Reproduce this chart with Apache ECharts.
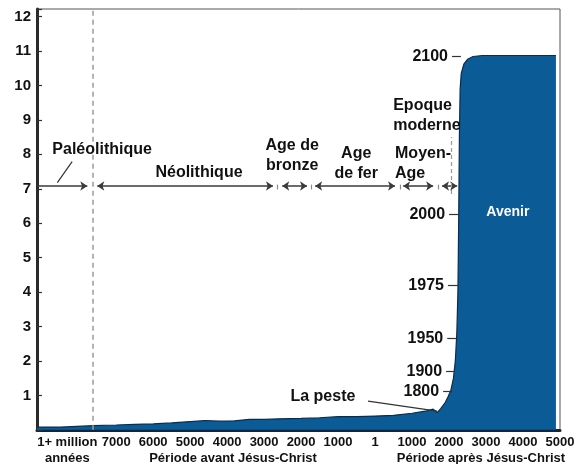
<!DOCTYPE html>
<html>
<head>
<meta charset="utf-8">
<script src="https://cdn.jsdelivr.net/npm/echarts@6/dist/echarts.min.js"></script>
<style>html,body{margin:0;padding:0;background:#fff}#c{width:579px;height:464px}</style>
</head>
<body>
<div id="c"></div>
<script>
// ---- Data (x in "era index" units: 0 = 7000 av. J.-C., 7 = an 1, 9 = 2000 apr. J.-C., 12 = 5000) ----
const xTickPos    = [-1.32, 0, 1, 2, 3, 4, 5, 6, 7, 8, 9, 10, 11, 12];
const xTickLabels = ['1+ million\nannées','7000','6000','5000','4000','3000','2000','1000','1','1000','2000','3000','4000','5000'];
const yTickLabels = ['1','2','3','4','5','6','7','8','9','10','11','12'];

// population (milliards)
const popX = [-2.14,-1.5,-0.62,0.0,0.5,1.0,1.5,2.0,2.4,2.8,3.2,3.6,4.0,4.4,5.0,5.5,6.0,6.5,7.0,7.5,8.0,8.4,8.57,8.68,8.78,8.9,8.97,9.05,9.12,9.17,9.21,9.24,9.26,9.28,9.30,9.33,9.40,9.50,9.65,9.9,11.89];
const popY = [0.08,0.08,0.12,0.14,0.16,0.17,0.2,0.24,0.27,0.25,0.26,0.3,0.3,0.32,0.33,0.35,0.38,0.38,0.4,0.42,0.48,0.55,0.6,0.5,0.62,0.8,0.95,1.15,1.5,2.0,2.8,4.0,6.0,8.5,9.9,10.35,10.62,10.76,10.84,10.87,10.87];

// periods
const periodNames = ['Paléolithique','Néolithique','Age de\nbronze','Age\nde fer','Moyen-\nAge','Epoque\nmoderne'];
const periodLabelX = [-0.38, 2.24, 4.76, 6.49, 7.54, 7.49];
const periodLabelY = [8.14, 7.47, 7.97, 7.74, 7.74, 9.13];
const periodStart = [-2.14, -0.51, 4.49, 5.38, 7.76, 8.81];
const periodEnd   = [-0.78, 4.24, 5.16, 7.54, 8.57, 9.22];
const periodArrowY = 7.08;
const periodSeparators = [4.35, 5.27, 7.68, 8.70];
const neolithicStartX = -0.62;
const modernSepX = 9.05, modernSepY = [6.85, 8.5];

// year marks along the curve
const yearNames = ['2100','2000','1975','1950','1900','1800'];
const yearY     = [10.84, 6.26, 4.19, 2.66, 1.70, 1.12];
const yearDashStart = [9.08, 9.00, 8.97, 8.95, 8.92, 8.84];
const yearDashEnd   = [9.32, 9.27, 9.24, 9.24, 9.16, 9.08];

// other notes
const pesteLabel = ['La peste', 5.59, 0.97];
const pesteLeader = [[6.81, 0.83], [8.68, 0.54]];
const paleoLeader = [[-1.19, 7.79], [-1.59, 7.18]];
const avenirLabel = ['Avenir', 10.59, 6.31];
const bottomTitles = ['Période avant Jésus-Christ', 'Période après Jésus-Christ'];

// ---- Build chart ----
const FONT = '"Liberation Sans", Arial, Helvetica, sans-serif';
const TXT = '#111111';
const chart = echarts.init(document.getElementById('c'), null, {renderer:'canvas'});

const lines = [];
periodStart.forEach((s, i) => {
  lines.push([
    {coord:[s, periodArrowY], symbol: i === 0 ? 'none' : 'arrow'},
    {coord:[periodEnd[i], periodArrowY], symbol:'arrow'}
  ]);
});
periodSeparators.forEach(x => {
  lines.push([
    {coord:[x, periodArrowY - 0.1], symbol:'none', lineStyle:{color:'#8a8a8a', type:'dashed', width:1.2}},
    {coord:[x, periodArrowY + 0.1], symbol:'none'}
  ]);
});
lines.push([
  {coord:[neolithicStartX, 0], symbol:'none', lineStyle:{color:'#9a9a9a', type:[5,4], width:1.5}},
  {coord:[neolithicStartX, 12.22], symbol:'none'}
]);
lines.push([
  {coord:[modernSepX, modernSepY[0]], symbol:'none', lineStyle:{color:'#9a9a9a', type:[4,3], width:1.2}},
  {coord:[modernSepX, modernSepY[1]], symbol:'none'}
]);
lines.push([
  {coord:paleoLeader[0], symbol:'none', lineStyle:{color:'#333', width:1.2}},
  {coord:paleoLeader[1], symbol:'none'}
]);
lines.push([
  {coord:pesteLeader[0], symbol:'none', lineStyle:{color:'#333', width:1.2}},
  {coord:pesteLeader[1], symbol:'none'}
]);
yearNames.forEach((n, i) => {
  lines.push([
    {coord:[yearDashStart[i], yearY[i]], symbol:'none', lineStyle:{color:'#333', width:1.2}},
    {coord:[yearDashEnd[i], yearY[i]], symbol:'none'}
  ]);
});

const baseLabel = {show:true, formatter:'{b}', fontFamily:FONT, fontWeight:'bold', fontSize:16, color:TXT, lineHeight:20, opacity:1};
const texts = [];
periodNames.forEach((n, i) => {
  const left = (i >= 4);
  texts.push({
    name:n, value:[periodLabelX[i], periodLabelY[i]],
    label: Object.assign({}, baseLabel, left ? {position:'right', distance:0, align:'left'} : {position:'inside', align:'center'})
  });
});
yearNames.forEach((n, i) => {
  texts.push({name:n, value:[yearDashStart[i], yearY[i]], label:Object.assign({}, baseLabel, {position:'left', distance:4})});
});
texts.push({name:pesteLabel[0], value:[pesteLabel[1], pesteLabel[2]], label:Object.assign({}, baseLabel, {position:'inside'})});
texts.push({name:avenirLabel[0], value:[avenirLabel[1], avenirLabel[2]], label:Object.assign({}, baseLabel, {position:'inside', color:'#ffffff', fontSize:14})});

function xLabel(v){
  for (let i = 0; i < xTickPos.length; i++) {
    if (Math.abs(v - xTickPos[i]) < 1e-6) return xTickLabels[i];
  }
  return '';
}

chart.setOption({
  animation:false,
  backgroundColor:'#ffffff',
  grid:{left:37, right:19, top:9, bottom:34.2, show:true, borderColor:'#555', borderWidth:1, containLabel:false, outerBoundsMode:'none'},
  xAxis:{
    type:'value', min:-2.14, max:12, interval:0.02,
    axisLine:{show:true, onZero:false, lineStyle:{color:'#13253a', width:3}},
    axisTick:{show:false}, splitLine:{show:false},
    axisLabel:{formatter:xLabel, fontFamily:FONT, fontWeight:'bold', fontSize:13, color:TXT, margin:5, lineHeight:16, showMinLabel:true, showMaxLabel:true}
  },
  yAxis:{
    type:'value', min:0, max:12.22, interval:1,
    axisLine:{show:true, onZero:false, lineStyle:{color:'#2a2a2a', width:3}},
    axisTick:{show:true, inside:true, length:5, lineStyle:{color:'#333', width:1.2}},
    splitLine:{show:false},
    axisLabel:{
      formatter: v => { const k = Math.round(v); return (Math.abs(v-k) < 1e-6 && k >= 1 && k <= yTickLabels.length) ? yTickLabels[k-1] : ''; },
      fontFamily:FONT, fontWeight:'bold', fontSize:15, color:TXT, margin:6
    }
  },
  series:[
    {
      type:'line', data: popX.map((x,i)=>[x, popY[i]]),
      showSymbol:false, symbol:'none', smooth:false, z:2,
      lineStyle:{color:'#0b2c4d', width:1.2},
      areaStyle:{color:'#0b5b97', opacity:1},
      markLine:{
        silent:true, symbolSize:[7,7], animation:false,
        label:{show:false}, emphasis:{disabled:true},
        lineStyle:{color:'#3a3a3a', width:1.5, type:'solid'},
        data: lines
      }
    },
    {
      type:'scatter', symbolSize:0, itemStyle:{color:TXT, opacity:1}, z:5, silent:true,
      label: baseLabel,
      data: texts
    }
  ],
  graphic:[
    {type:'text', x:233, y:458, style:{text:bottomTitles[0], x:0, y:0, align:'center', verticalAlign:'middle', font:'bold 13px ' + FONT, fill:TXT}},
    {type:'text', x:481, y:458, style:{text:bottomTitles[1], x:0, y:0, align:'center', verticalAlign:'middle', font:'bold 13px ' + FONT, fill:TXT}}
  ]
});
</script>
</body>
</html>
